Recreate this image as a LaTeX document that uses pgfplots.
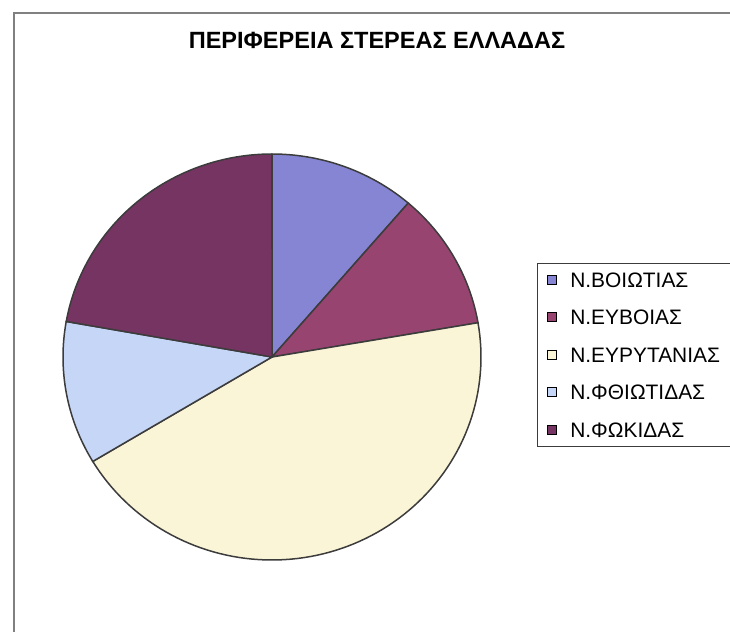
\documentclass[border=0pt]{standalone}
\usepackage{pgfplots}
\pgfplotsset{compat=1.18}
\usepackage{fontspec}
\setmainfont{Liberation Sans}

\definecolor{cBoi}{RGB}{133,133,212}
\definecolor{cEvv}{RGB}{152,68,112}
\definecolor{cEvr}{RGB}{251,245,216}
\definecolor{cFth}{RGB}{198,214,246}
\definecolor{cFok}{RGB}{118,52,98}
\definecolor{edge}{RGB}{60,60,60}

% shares in percent, clockwise from 12 o'clock
\def\vBoi{11.3}
\def\vEvv{11.0}
\def\vEvr{44.1}
\def\vFth{11.4}
\def\vFok{22.2}

\begin{document}
\begin{tikzpicture}
\path[use as bounding box] (0,0) rectangle (730bp,-632bp);
\draw[gray, line width=1.2bp] (14bp,-632bp) -- (14bp,-13bp) -- (730bp,-13bp);
\node[font=\bfseries\fontsize{23.6}{27}\selectfont] at (377bp,-40bp) {ΠΕΡΙΦΕΡΕΙΑ ΣΤΕΡΕΑΣ ΕΛΛΑΔΑΣ};

\pgfmathsetmacro\aA{0}
\pgfmathsetmacro\aB{\aA+3.6*\vBoi}
\pgfmathsetmacro\aC{\aB+3.6*\vEvv}
\pgfmathsetmacro\aD{\aC+3.6*\vEvr}
\pgfmathsetmacro\aE{\aD+3.6*\vFth}
\pgfmathsetmacro\aF{\aE+3.6*\vFok}

\begin{axis}[
    at={(272bp,-357bp)}, anchor=center,
    scale only axis, width=418bp, height=406bp,
    xmin=-1, xmax=1, ymin=-1, ymax=1,
    hide axis, clip=false,
    every axis plot/.append style={draw=edge, line width=1.5bp, samples=90},
    legend cell align=left,
    legend style={at={(1.134,0.7315)}, anchor=north west,
        draw=edge, line width=0.8bp, inner xsep=10bp, inner ysep=9bp,
        font=\fontsize{21}{25}\selectfont,
        nodes={inner sep=0pt, text height=15bp, text depth=0pt},
        row sep=22.5bp, column sep=13bp},
    legend image code/.code={\draw[#1, line width=0.9bp, draw=black] (0bp,-4.5bp) rectangle (9bp,4.5bp);},
]
\addplot[fill=cBoi, domain=\aA:\aB] ({cos(90-x)},{sin(90-x)}) -- (axis cs:0,0) -- cycle;
\addlegendentry{Ν.ΒΟΙΩΤΙΑΣ}
\addplot[fill=cEvv, domain=\aB:\aC] ({cos(90-x)},{sin(90-x)}) -- (axis cs:0,0) -- cycle;
\addlegendentry{Ν.ΕΥΒΟΙΑΣ}
\addplot[fill=cEvr, domain=\aC:\aD] ({cos(90-x)},{sin(90-x)}) -- (axis cs:0,0) -- cycle;
\addlegendentry{Ν.ΕΥΡΥΤΑΝΙΑΣ}
\addplot[fill=cFth, domain=\aD:\aE] ({cos(90-x)},{sin(90-x)}) -- (axis cs:0,0) -- cycle;
\addlegendentry{Ν.ΦΘΙΩΤΙΔΑΣ}
\addplot[fill=cFok, domain=\aE:\aF] ({cos(90-x)},{sin(90-x)}) -- (axis cs:0,0) -- cycle;
\addlegendentry{Ν.ΦΩΚΙΔΑΣ}
\end{axis}
\end{tikzpicture}
\end{document}
